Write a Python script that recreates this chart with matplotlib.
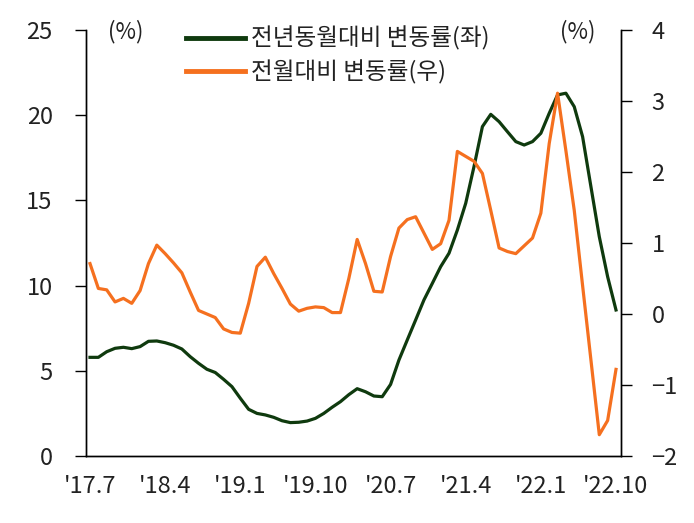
import matplotlib
matplotlib.use("Agg")
import matplotlib.pyplot as plt

plt.rcParams['font.family'] = ['Noto Sans CJK KR', 'DejaVu Sans']
plt.rcParams['font.weight'] = 'light'

# Monthly data: 2017.7 .. 2022.10
months = []
y, m = 2017, 7
while (y, m) <= (2022, 10):
    months.append(f"'{y % 100}.{m}")
    m += 1
    if m > 12:
        m = 1
        y += 1

yoy = [5.79, 5.79, 6.12, 6.32, 6.38, 6.3, 6.42, 6.73, 6.75, 6.65,
       6.5, 6.28, 5.83, 5.44, 5.09, 4.9, 4.5, 4.07, 3.39, 2.74,
       2.5, 2.41, 2.27, 2.07, 1.96, 1.98, 2.05, 2.21, 2.5, 2.86,
       3.19, 3.6, 3.95, 3.77, 3.52, 3.48, 4.2, 5.63, 6.81, 7.98,
       9.16, 10.13, 11.11, 11.9, 13.26, 14.83, 17.0, 19.33, 20.05, 19.62,
       19.03, 18.45, 18.25, 18.45, 18.94, 20.11, 21.19, 21.29, 20.5, 18.74,
       15.8, 12.87, 10.52, 8.57]

mom = [0.71, 0.36, 0.34, 0.17, 0.22, 0.15, 0.33, 0.71, 0.97, 0.85,
       0.72, 0.58, 0.31, 0.05, 0.0, -0.05, -0.21, -0.26, -0.27, 0.15,
       0.67, 0.80, 0.57, 0.36, 0.14, 0.04, 0.08, 0.10, 0.09, 0.02,
       0.02, 0.5, 1.05, 0.71, 0.32, 0.31, 0.81, 1.21, 1.33, 1.37,
       1.14, 0.91, 0.99, 1.32, 2.29, 2.22, 2.15, 1.98, 1.46, 0.93,
       0.88, 0.85, 0.96, 1.07, 1.42, 2.40, 3.11, 2.3, 1.46, 0.4,
       -0.65, -1.70, -1.50, -0.78]

label_yoy = '전년동월대비 변동률(좌)'
label_mom = '전월대비 변동률(우)'
left_ticks = [0, 5, 10, 15, 20, 25]
right_ticks = [-2, -1, 0, 1, 2, 3, 4]

GREEN = '#0f3a0e'
ORANGE = '#f5701f'
TXT = '#222222'

fig = plt.figure(figsize=(6.94, 5.23), dpi=100)
ax = fig.add_axes([86/694, 1-456/523, (621-86)/694, (456-30)/523])
ax2 = ax.twinx()

x = list(range(len(months)))
ax.plot(x, yoy, color=GREEN, lw=2.3, solid_joinstyle='round')
ax2.plot(x, mom, color=ORANGE, lw=2.3, solid_joinstyle='round')

ax.set_xlim(-0.48, 63.6)
ax.set_ylim(0, 25)
ax2.set_ylim(-2, 4)
ax.set_yticks(left_ticks)
ax2.set_yticks(right_ticks)
ax.set_xticks(x[::9])
ax.set_xticklabels(months[::9])

for a in (ax, ax2):
    a.spines['top'].set_visible(False)
    for s in a.spines.values():
        s.set_linewidth(1.0)
        s.set_color('black')
ax.tick_params(axis='y', direction='out', length=8, width=1.0, labelsize=17,
               labelcolor=TXT, pad=16)
ax2.tick_params(axis='y', direction='out', length=8, width=1.0, labelsize=17,
                labelcolor=TXT, pad=14)
ax.tick_params(axis='x', length=0, labelsize=17, labelcolor=TXT, pad=14)

fig.text(126/694, 1-32/523, '(%)', ha='center', va='center', fontsize=16, color=TXT)
fig.text(578/694, 1-32/523, '(%)', ha='center', va='center', fontsize=16, color=TXT)

leg_handles = [plt.Line2D([], [], color=GREEN, lw=3.5),
               plt.Line2D([], [], color=ORANGE, lw=3.5)]
fig.legend(leg_handles, [label_yoy, label_mom], loc='upper left',
           bbox_to_anchor=(177/694, 1-17/523), frameon=False, fontsize=17,
           handlelength=2.5, handletextpad=0.25, labelspacing=0.4,
           labelcolor=TXT, borderaxespad=0)

fig.savefig('out.png', dpi=100)
